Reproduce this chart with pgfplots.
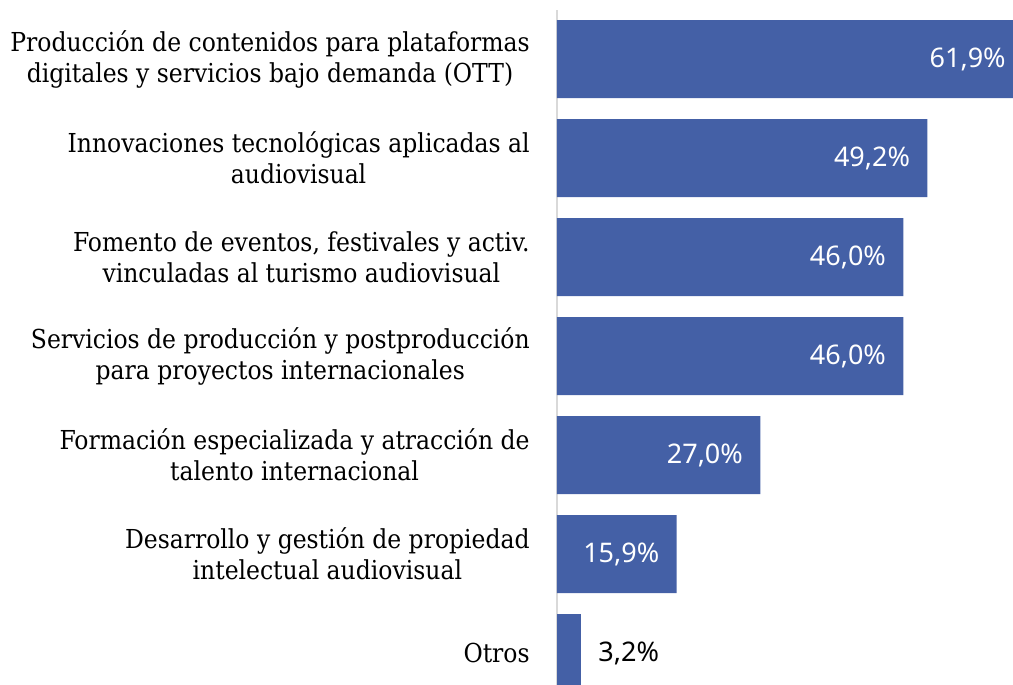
\documentclass[border=0pt]{standalone}
\usepackage{fontspec}
\setmainfont{DejaVu Serif Condensed}
\newfontfamily\valfont{Noto Sans}
\usepackage{pgfplots}
\pgfplotsset{compat=1.18}
\definecolor{barblue}{RGB}{68,96,166}
\definecolor{axisgray}{RGB}{217,217,217}
\begin{document}
\begin{tikzpicture}
\useasboundingbox (0,0) rectangle (506.5pt,342.5pt);
\clip (0,0) rectangle (506.5pt,342.5pt);
\begin{axis}[
  at={(278.5pt,0pt)}, anchor=south west,
  scale only axis, width=244.7pt, height=337.5pt,
  xmin=0, xmax=65,
  ymin=-0.495, ymax=6.323,
  y dir=reverse,
  axis x line=none,
  axis y line*=left,
  y axis line style={axisgray, line width=1pt, -},
  ytick={0,...,6},
  major tick length=0pt,
  yticklabels={
    {Producción de contenidos para plataformas\\digitales y servicios bajo demanda (OTT)},
    {Innovaciones tecnológicas aplicadas al\\audiovisual},
    {Fomento de eventos, festivales y activ.\\vinculadas al turismo audiovisual},
    {Servicios de producción y postproducción\\para proyectos internacionales},
    {Formación especializada y atracción de\\talento internacional},
    {Desarrollo y gestión de propiedad\\intelectual audiovisual},
    {Otros}},
  yticklabel style={align=center, anchor=east, inner sep=0pt, xshift=-13.5pt,
    font=\fontsize{13.05}{15.5}\selectfont},
  xbar, bar width=39pt, bar shift=0pt,
  clip=false,
  nodes near coords={\pgfmathprintnumber[fixed,fixed zerofill,precision=1,use comma,assume math mode=true]{\pgfplotspointmeta}\%},
  every node near coord/.append style={font=\valfont\fontsize{13.5}{15}\selectfont, inner sep=0pt},
]
\addplot[fill=barblue, draw=none,
  every node near coord/.append style={anchor=east, xshift=-8.5pt, text=white}]
  coordinates {(61.9,0) (49.2,1) (46.0,2) (46.0,3) (27.0,4) (15.9,5)};
\addplot[fill=barblue, draw=none,
  every node near coord/.append style={anchor=west, xshift=8.5pt, text=black}]
  coordinates {(3.2,6)};
\end{axis}
\end{tikzpicture}
\end{document}
